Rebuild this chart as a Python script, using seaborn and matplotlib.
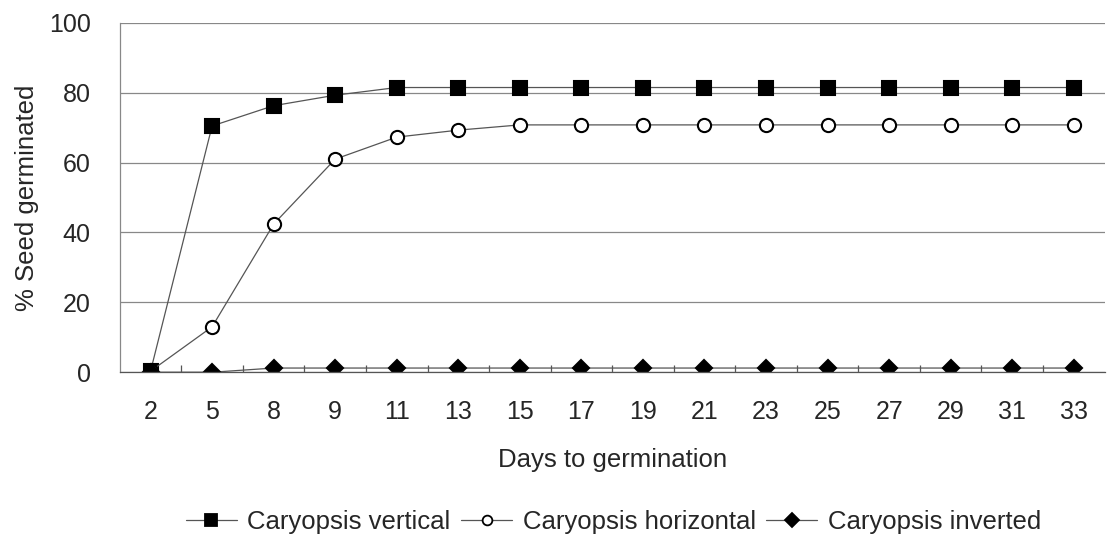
import seaborn as sns
import matplotlib.pyplot as plt
import pandas as pd

days = ['2', '5', '8', '9', '11', '13', '15', '17', '19', '21', '23', '25', '27', '29', '31', '33']
vertical = [0.3, 70.5, 76.3, 79.3, 81.5, 81.5, 81.5, 81.5, 81.5, 81.5, 81.5, 81.5, 81.5, 81.5, 81.5, 81.5]
horizontal = [0.3, 13.0, 42.4, 61.0, 67.3, 69.3, 70.8, 70.8, 70.8, 70.8, 70.8, 70.8, 70.8, 70.8, 70.8, 70.8]
inverted = [0.0, 0.0, 1.2, 1.2, 1.2, 1.2, 1.2, 1.2, 1.2, 1.2, 1.2, 1.2, 1.2, 1.2, 1.2, 1.2]

names = ['Caryopsis vertical', 'Caryopsis horizontal', 'Caryopsis inverted']
rows = []
for name, vals in zip(names, [vertical, horizontal, inverted]):
    for d, v in zip(days, vals):
        rows.append([d, v, name])
df = pd.DataFrame(rows, columns=['day', 'pct', 'series'])

sns.set_theme(style="white")
plt.rcParams['font.family'] = ['Liberation Sans', 'DejaVu Sans']

fig = plt.figure(figsize=(11.09, 5.45), dpi=100)
ax = fig.add_axes([0.108, 0.317, 0.888, 0.641])

ax.set_ylim(0, 100)
ax.set_yticks([0, 20, 40, 60, 80, 100])
ax.grid(axis='y', color='#888888', linewidth=0.9)
ax.set_axisbelow(True)

sns.lineplot(
    data=df, x='day', y='pct', hue='series', style='series',
    palette=['black', 'black', 'black'],
    markers={'Caryopsis vertical': 's', 'Caryopsis horizontal': 'o', 'Caryopsis inverted': 'D'},
    dashes=False, sort=False, ax=ax, linewidth=0.9, legend=False,
)
for line, mfc, ms in zip(ax.lines, ['black', 'white', 'black'], [9.5, 9.5, 8]):
    line.set_color('#555555')
    line.set_markerfacecolor(mfc)
    line.set_markeredgecolor('black')
    line.set_markeredgewidth(1.5)
    line.set_markersize(ms)

ax.set_xlim(-0.5, len(days) - 0.5)
ax.set_xticks(range(len(days)))
ax.set_xticklabels(days)
ax.set_xticks([i + 0.5 for i in range(len(days) - 1)], minor=True)
ax.tick_params(axis='x', which='major', length=0, pad=20, labelsize=18)
ax.tick_params(axis='x', which='minor', length=5, direction='in', color='#555555', width=0.9, bottom=True)
ax.tick_params(axis='y', length=0, pad=21, labelsize=18)

for s in ['top', 'right']:
    ax.spines[s].set_visible(False)
ax.spines['left'].set_color('#888888')
ax.spines['left'].set_linewidth(0.9)
ax.spines['bottom'].set_color('#555555')
ax.spines['bottom'].set_linewidth(0.9)

ax.set_xlabel('Days to germination', fontsize=18.5, labelpad=17)
ax.set_ylabel('% Seed germinated', fontsize=18.5, labelpad=7)

handles = []
for mk, mfc, ms in zip(['s', 'o', 'D'], ['black', 'white', 'black'], [8, 7, 7]):
    h, = ax.plot([], [], color='#555555', linewidth=0.9, marker=mk, markerfacecolor=mfc,
                 markeredgecolor='black', markeredgewidth=1.3, markersize=ms)
    handles.append(h)
fig.legend(handles, names, loc='center', bbox_to_anchor=(0.553, 0.043), ncol=3,
           frameon=False, fontsize=18.5, handlelength=2.0, handletextpad=0.4, columnspacing=0.4)

plt.savefig('out.png', dpi=100)
